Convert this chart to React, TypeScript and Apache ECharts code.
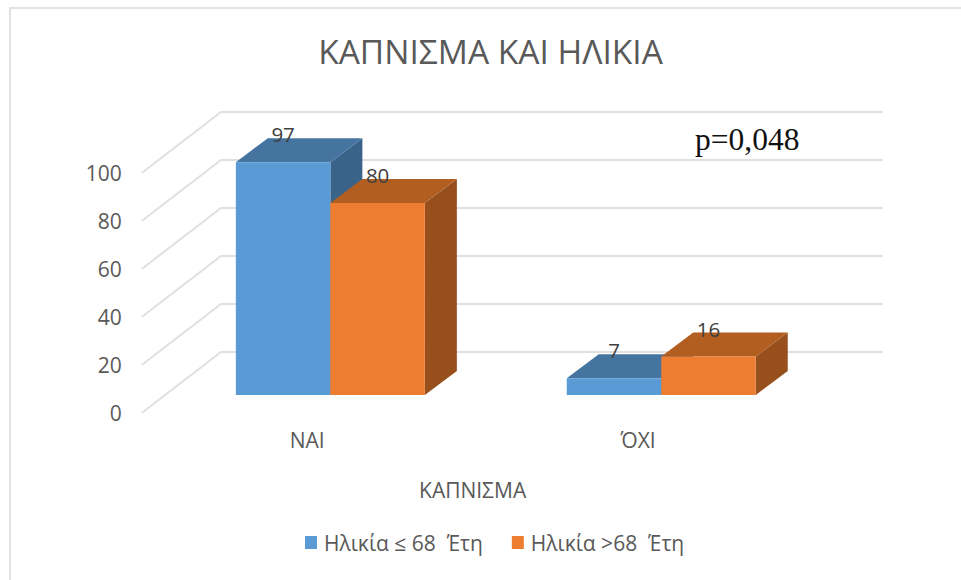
import React, { useEffect, useRef } from "react";
import * as echarts from "echarts";

const FONT = "'Open Sans', 'Noto Sans', sans-serif";
const TITLE = "ΚΑΠΝΙΣΜΑ ΚΑΙ ΗΛΙΚΙΑ";
const AXIS_NAME = "ΚΑΠΝΙΣΜΑ";
const NOTE = "p=0,048";
const categories = ["ΝΑΙ", "ΌΧΙ"];
const seriesLow = "Ηλικία ≤ 68  Έτη";
const seriesHigh = "Ηλικία >68  Έτη";
const valuesLow = [97, 7];
const valuesHigh = [80, 16];
const yTicks = [0, 20, 40, 60, 80, 100];

const TEXT = "#595959";
const GRID = "#e0e0e0";
const BLUE = { front: "#5b9bd5", top: "#44749f", side: "#3a638a" };
const ORANGE = { front: "#ed7d31", top: "#b25e20", side: "#97501c" };

// 3D projection, in pixels
const WALL = { dx: 79.3, dy: -61 };
const FLOOR = { dx: 23.2, dy: -18 };
const DEPTH = { dx: 32, dy: -24 };
const BAR_W = 94.5;

function barRenderer(col: { front: string; top: string; side: string }, offsetIndex: number) {
  return (_params: any, api: any) => {
    const cat = api.value(0);
    const val = api.value(1);
    const [cx, yTop] = api.coord([cat, val]);
    const [, y0] = api.coord([cat, 0]);
    const x1 = cx + FLOOR.dx - BAR_W + offsetIndex * BAR_W;
    const x2 = x1 + BAR_W;
    const t = yTop + FLOOR.dy;
    const b = y0 + FLOOR.dy;
    const d = DEPTH;
    const shape = (points: number[][], fill: string) => ({
      type: "polygon",
      shape: { points },
      style: { fill, stroke: null },
    });
    return {
      type: "group",
      children: [
        shape([[x2, t], [x2 + d.dx, t + d.dy], [x2 + d.dx, b + d.dy], [x2, b]], col.side),
        shape([[x1, t], [x1 + d.dx, t + d.dy], [x2 + d.dx, t + d.dy], [x2, t]], col.top),
        shape([[x1, t], [x2, t], [x2, b], [x1, b]], col.front),
        {
          type: "text",
          x: (x1 + x2) / 2,
          y: t + d.dy - 4,
          style: {
            text: String(val),
            fill: "#404040",
            font: `20.5px ${FONT}`,
            align: "center",
            verticalAlign: "middle",
          },
          z2: 10,
        },
      ],
    };
  };
}

function wallRenderer(params: any, api: any) {
  const v = api.value(0);
  const [, y] = api.coord([0, v]);
  const left = params.coordSys.x;
  const right = left + params.coordSys.width;
  return {
    type: "polyline",
    shape: {
      points: [
        [left, y],
        [left + WALL.dx, y + WALL.dy],
        [right + WALL.dx, y + WALL.dy],
      ],
    },
    style: { stroke: GRID, lineWidth: 2, fill: null },
  };
}

export default function App() {
  const ref = useRef<HTMLDivElement>(null);
  useEffect(() => {
    const chart = echarts.init(ref.current!, null, { renderer: "svg" });
    chart.setOption({
      animation: false,
      backgroundColor: "#ffffff",
      textStyle: { fontFamily: FONT },
      title: {
        text: TITLE,
        left: 485.5,
        top: 29,
        textAlign: "center",
        textStyle: { color: TEXT, fontSize: 33.5, fontWeight: "normal", fontFamily: FONT },
      },
      legend: {
        left: 300,
        top: 527,
        icon: "rect",
        itemWidth: 12,
        itemHeight: 13,
        itemGap: 29,
        textStyle: { color: TEXT, fontSize: 21, fontFamily: FONT, padding: [0, 0, 0, 2] },
        data: [
          { name: seriesLow, itemStyle: { color: BLUE.front } },
          { name: seriesHigh, itemStyle: { color: ORANGE.front } },
        ],
      },
      grid: { left: 141.7, top: 173, width: 661.8, height: 240 },
      xAxis: {
        type: "category",
        data: categories,
        name: AXIS_NAME,
        nameLocation: "middle",
        nameGap: 66,
        nameTextStyle: { color: TEXT, fontSize: 21, fontFamily: FONT },
        axisLine: { show: false },
        axisTick: { show: false },
        axisLabel: { color: TEXT, fontSize: 21, margin: 16, fontFamily: FONT },
      },
      yAxis: {
        type: "value",
        min: 0,
        max: 100,
        interval: 20,
        axisLine: { show: false },
        axisTick: { show: false },
        splitLine: { show: false },
        axisLabel: { color: TEXT, fontSize: 21, margin: 20, fontFamily: FONT },
      },
      series: [
        {
          type: "custom",
          name: "walls",
          silent: true,
          renderItem: wallRenderer,
          data: yTicks.map((v) => [v]),
          encode: { y: 0 },
        },
        {
          type: "custom",
          name: seriesLow,
          renderItem: barRenderer(BLUE, 0),
          itemStyle: { color: BLUE.front },
          data: valuesLow.map((v, i) => [i, v]),
          encode: { x: 0, y: 1 },
        },
        {
          type: "custom",
          name: seriesHigh,
          renderItem: barRenderer(ORANGE, 1),
          itemStyle: { color: ORANGE.front },
          data: valuesHigh.map((v, i) => [i, v]),
          encode: { x: 0, y: 1 },
        },
      ],
      graphic: [
        {
          type: "polyline",
          shape: { points: [[10, 580], [10, 8], [961, 8]] },
          style: { stroke: "#e2e2e2", lineWidth: 2, fill: null },
        },
        {
          type: "text",
          x: 695,
          y: 139,
          style: {
            text: NOTE,
            fill: "#111111",
            font: "31.5px 'Liberation Serif', serif",
            align: "left",
            verticalAlign: "middle",
          },
        },
      ],
    });
    return () => chart.dispose();
  }, []);
  return (
    <div
      ref={ref}
      style={{ position: "absolute", left: 0, top: 0, width: 961, height: 580 }}
    />
  );
}
